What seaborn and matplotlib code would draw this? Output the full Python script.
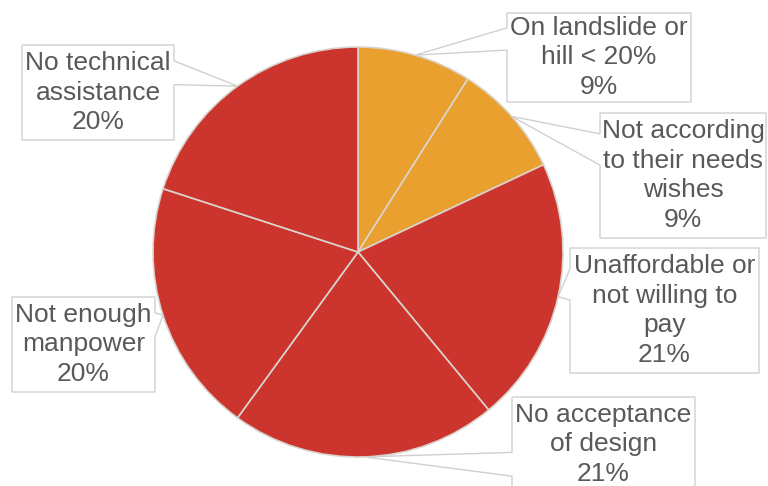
import matplotlib
matplotlib.use("Agg")
import numpy as np
import matplotlib.pyplot as plt
import seaborn as sns
from matplotlib.patches import Polygon

# === Data ===
labels = [
    "On landslide or\nhill < 20%",
    "Not according\nto their needs\nwishes",
    "Unaffordable or\nnot willing to\npay",
    "No acceptance\nof design",
    "Not enough\nmanpower",
    "No technical\nassistance",
]
shares = [9, 9, 21, 21, 20, 20]
colors = ["#E9A02F", "#E9A02F", "#CC342E", "#CC342E", "#CC342E", "#CC342E"]

# callout boxes in pixel coords (x0, y0, x1, y1), y going down
boxes = [
    (507, 13, 691, 102),
    (600, 113, 766, 238),
    (570, 248, 759, 373),
    (512, 397, 695, 492),
    (12, 297, 155, 392),
    (22, 45, 174, 140),
]

W, H = 768, 486
CX, CY, R = 358, 252, 205

sns.set_theme(style="white")
plt.rcParams["font.family"] = ["Liberation Sans", "DejaVu Sans"]


def to_data(pts):
    return [(x, H - y) for x, y in pts]


def callout(box, tip):
    # Excel style wedge rectangle callout outline
    x0, y0, x1, y1 = box
    tx, ty = tip
    w, h = x1 - x0, y1 - y0
    dx = tx - (x0 + x1) / 2
    dy = ty - (y0 + y1) / 2
    dq = dx * h / w
    if abs(dy) - abs(dq) > 0:
        xs1 = x0 + w * (7 if dx > 0 else 2) / 12
        xs2 = x0 + w * (10 if dx > 0 else 5) / 12
        if dy < 0:
            pts = [(x0, y0), (xs1, y0), (tx, ty), (xs2, y0), (x1, y0), (x1, y1), (x0, y1)]
        else:
            pts = [(x0, y0), (x1, y0), (x1, y1), (xs2, y1), (tx, ty), (xs1, y1), (x0, y1)]
    else:
        ys1 = y0 + h * (7 if dy > 0 else 2) / 12
        ys2 = y0 + h * (10 if dy > 0 else 5) / 12
        if dx < 0:
            pts = [(x0, y0), (x1, y0), (x1, y1), (x0, y1), (x0, ys2), (tx, ty), (x0, ys1)]
        else:
            pts = [(x0, y0), (x1, y0), (x1, ys1), (tx, ty), (x1, ys2), (x1, y1), (x0, y1)]
    return pts


fig = plt.figure(figsize=(W / 100, H / 100), dpi=100)
ax = fig.add_axes([0, 0, 1, 1])

wedges, _ = ax.pie(
    shares, colors=colors, startangle=90, counterclock=False,
    center=(CX, H - CY), radius=R,
    wedgeprops=dict(edgecolor="#d9d4cc", linewidth=1.2),
)
ax.set_xlim(0, W)
ax.set_ylim(0, H)
ax.set_aspect("equal")
ax.axis("off")

for wedge, lab, val, box in zip(wedges, labels, shares, boxes):
    mid = np.deg2rad((wedge.theta1 + wedge.theta2) / 2)
    tip = (CX + R * np.cos(mid), CY - R * np.sin(mid))
    poly = Polygon(to_data(callout(box, tip)), closed=True, facecolor="white",
                   edgecolor="#d0d0d0", linewidth=1.0, zorder=5)
    ax.add_patch(poly)
    x0, y0, x1, y1 = box
    ax.text((x0 + x1) / 2, H - (y0 + y1) / 2, f"{lab}\n{val}%",
            ha="center", va="center", fontsize=19, color="#595959",
            linespacing=1.3, zorder=6)

fig.savefig("out.png", dpi=100)
